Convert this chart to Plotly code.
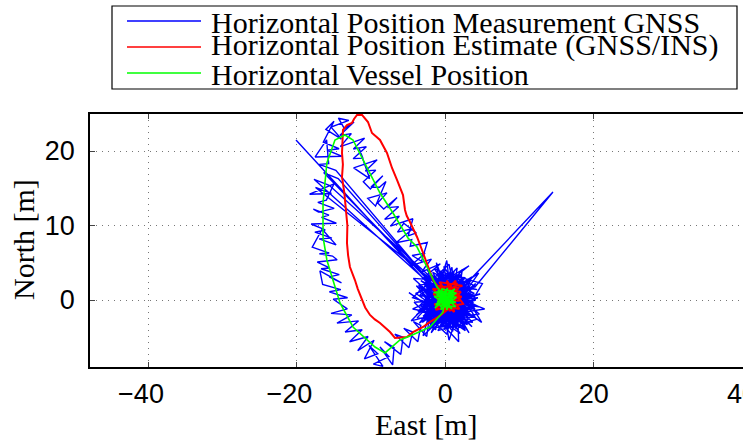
import plotly.graph_objects as go

# ---------------- data: (East [m], North [m]) ----------------
# GNSS horizontal position measurements, in time order
gnss_outlier = [(-20.12, 21.48)]

gnss_static = [
    (-1.6, 1.4), (3.2, 1.5), (-2.8, -1.0), (2.5, -2.6), (-1.9, 2.8), (3.8, -0.4), (-3.5, 0.6),
    (1.2, 3.9), (-0.6, -3.7), (4.1, 2.2), (-2.2, -2.9), (0.9, 4.4), (1.5, -3.9), (-3.9, 1.9),
    (3.5, -2.1), (-1.1, 3.3), (2.7, 3.0), (-3.0, -2.2), (4.4, 0.3), (-4.2, -0.3), (0.2, -4.6),
    (2.0, 2.5), (-2.5, 1.4), (3.0, -3.3), (-1.5, -1.8), (0.3, 3.6), (4.0, -1.2), (-3.3, 2.6),
    (1.8, -1.1), (-0.9, 4.0), (2.9, 0.8), (-2.0, -3.6), (3.6, 3.1), (-3.7, -1.5), (0.8, -2.4),
    (-1.3, 2.0), (4.5, -0.9), (-2.7, 0.2), (1.0, -4.2), (2.3, 4.1), (-3.1, -3.0), (3.3, 1.9),
    (-0.4, -2.7), (1.7, 3.2), (-4.0, 0.9), (2.6, -3.8), (-1.7, 3.7), (3.9, 0.9), (-2.3, -1.3),
    (0.6, 2.9), (2.66, 2.0), (14.51, 14.50), (4.0, 1.74), (-3.6, 1.2), (1.4, -3.1),
    (-0.2, 4.5), (4.2, -2.6), (-1.0, -4.1), (2.2, 1.0), (-2.9, 3.1), (3.7, -3.0),
    (-3.8, -2.4), (0.0, 1.6), (2.8, -0.2), (-1.6, -0.6), (1.1, 2.2), (4.3, 1.4), (-2.4, 2.3),
    (2.0, -4.5), (-3.4, -0.7), (1.6, 4.3), (0.4, -3.4), (3.4, 2.6), (-1.8, 1.0), (2.4, -2.0),
    (-0.7, 3.0), (4.6, -1.9), (-2.6, -2.5), (1.3, 0.6), (-0.5, -1.2), (0.7, 1.1), (-1.2, 0.4),
    (1.9, -0.5), (-0.8, 1.9), (0.1, -1.5), (1.5, 1.7), (-1.4, -1.0), (2.5, 0.3), (-0.3, 2.4),
    (1.2, -1.9), (-2.1, 0.8), (2.9, -1.0), (0.3, 0.9), (-1.9, -4.4), (3.0, 2.2), (-0.9, -0.3),
    (4.7, 0.8), (-3.2, -1.7), (1.9, 3.6), (-1.2, -2.6), (3.9, -2.3), (-4.4, 0.3), (0.5, 4.8),
    (2.2, -3.2), (-2.8, 2.0), (3.3, 0.4), (-0.1, -4.0), (1.0, 2.7), (-3.5, -3.1), (4.0, 1.9),
    (-1.5, 4.2), (2.6, -1.4), (-2.4, -0.4), (0.8, -1.0), (3.6, -3.6), (-3.0, 3.5), (1.7, 0.0),
    (-0.6, -2.1), (5.3, -1.2), (-1.9, 1.6), (2.1, 3.4), (-2.2, -3.9), (0.0, 2.2), (3.1, -2.7),
    (-4.4, -1.2), (1.4, 1.3), (-0.8, 3.6), (2.7, -4.1), (-4.9, 1.0), (0.9, -3.0), (1.8, 2.0),
    (-1.0, -1.6), (4.1, 0.0), (-2.6, 3.0), (0.2, -0.6), (3.5, 1.0), (-1.7, -3.2), (2.4, 2.8),
    (-3.6, 2.0), (1.1, -2.2), (0.2, 5.3), (-2.0, -2.0), (3.7, -1.2), (-0.4, 1.2), (2.0, -2.9),
    (-1.1, 2.6), (2.9, 1.6), (-2.9, -0.6), (1.8, -5.6), (1.5, 3.0), (-3.9, -2.0), (4.5, 3.6),
    (-0.2, -3.0), (2.3, 0.2), (-3.0, -4.8), (-1.3, 1.1), (0.8, -0.3), (3.2, -4.4), (-2.5, 4.1),
    (1.0, 0.4), (0.9, -2.8), (-2.6, 1.1), (2.1, 2.0), (-1.0, -2.9), (2.8, -0.9), (-2.2, -0.7),
    (1.3, 2.8), (-0.5, -3.3), (3.0, 1.2), (-2.9, 0.5), (0.4, -2.2), (-1.4, 2.7), (2.6, -2.3),
    (-2.4, -2.2), (1.6, 1.2), (-0.3, 3.1), (3.2, -1.9), (-3.1, 1.6), (0.6, -3.6), (2.2, 2.9),
    (-1.8, -1.4), (1.0, 3.4), (4.9, -3.0), (-2.7, 2.4), (0.1, -2.6), (3.4, 0.3), (-1.6, 3.2),
    (2.0, -3.7), (-3.3, -0.9), (1.5, 0.4), (-0.9, -3.8), (2.6, 1.7), (-2.3, 3.3), (1.2, -1.3),
    (-4.6, -2.8), (0.7, 2.5), (3.1, -0.3), (-1.5, -2.4), (1.9, 3.1), (-2.8, -0.2), (0.3, -3.9),
    (2.4, 0.8), (-0.6, 2.1), (3.3, -2.6), (-2.0, 1.9), (0.8, -1.8), (-1.2, -3.4), (2.7, 2.4),
    (-4.3, 2.9), (1.7, -2.5), (-0.4, 3.4), (2.3, -1.1), (-2.5, -1.6), (1.1, 1.9), (-1.9, 2.9),
    (3.0, 0.9), (-0.8, -2.3), (1.8, -3.3), (-2.6, 0.0), (3.2, 4.6), (0.5, 3.0), (2.9, -2.0),
    (-1.7, 1.3), (0.0, -3.2), (2.5, 2.2), (-3.2, -2.6), (1.4, -0.4), (-0.7, 3.8), (5.0, 2.2),
    (2.1, -2.6), (-2.1, -3.0), (1.6, 2.6), (-1.1, 0.6), (3.5, -1.4), (-2.9, 2.9), (0.9, -0.9),
    (-1.2, 5.0), (-0.2, -1.9), (1.3, 1.0), (-1.3, 1.8), (2.2, -0.2), (0.5, -5.4), (-0.5, 0.3),
    (0.7, -2.9), (-2.2, -1.1), (1.9, 0.6), (-0.1, 2.8), (2.4, -3.4), (-1.6, -3.7), (0.4, 1.5),
]

gnss_loop = [
    # eastern leg, heading north
    (-0.19, 2.58), (-2.82, 1.78), (-1.40, 3.19), (-2.79, 3.07), (-0.67, 4.86), (-3.10, 3.80),
    (-2.76, 4.36), (-1.87, 5.48), (-4.67, 4.59), (-2.72, 6.29), (-4.47, 5.97), (-3.20, 5.20),
    (-2.43, 7.72), (-4.73, 7.21), (-4.53, 8.10), (-6.64, 7.68), (-4.30, 9.62), (-6.44, 9.12),
    (-5.60, 10.30), (-3.90, 9.00), (-5.00, 8.60), (-4.37, 10.91), (-7.40, 9.92),
    (-6.20, 11.24), (-8.17, 10.83), (-6.29, 12.53), (-7.77, 12.40), (-6.50, 13.77),
    (-8.30, 12.20), (-9.12, 13.02), (-7.86, 14.38), (-10.45, 13.64), (-9.40, 12.60),
    (-8.00, 15.90), (-8.87, 15.14), (-10.01, 15.16), (-8.42, 16.67), (-10.10, 14.90),
    (-11.05, 15.88), (-9.37, 17.43), (-10.77, 17.31), (-9.18, 18.82), (-12.35, 17.73),
    (-10.20, 16.30), (-11.60, 20.30), (-11.11, 19.05), (-12.42, 18.97), (-10.64, 20.58),
    (-12.39, 20.26), (-10.88, 21.72), (-14.14, 20.59), (-12.66, 22.34),
    # turn at the northern end
    (-14.20, 22.10), (-12.30, 23.90), (-13.60, 23.00), (-14.40, 24.40), (-13.00, 24.10),
    (-15.40, 23.20), (-14.00, 21.60), (-16.10, 22.90), (-15.00, 24.00),
    # western leg, heading south (with jumps back towards the dock)
    (-16.44, 21.20), (-14.32, 20.30), (-15.89, 20.10), (-13.97, 19.30), (-17.54, 19.20),
    (-16.00, 21.50), (-15.72, 18.30), (-16.99, 18.20), (-14.75, 17.40), (-1.30, 1.60),
    (-16.40, 17.10), (-14.44, 16.30), (-0.60, 0.80), (-17.69, 16.20), (-15.64, 15.40),
    (0.20, 1.10), (-17.49, 15.10), (-15.34, 14.30), (-18.29, 14.20), (-15.00, 15.60),
    (-16.03, 13.40), (-17.18, 13.10), (-14.98, 12.30), (-17.10, 11.80), (-17.78, 12.20),
    (-15.68, 11.40), (-16.68, 11.10), (-14.68, 10.30), (-18.08, 10.20), (-16.18, 9.40),
    (-17.58, 9.10), (-15.28, 8.30), (-17.00, 8.20), (-14.72, 7.40), (-16.60, 9.50),
    (-17.93, 7.10), (-15.65, 6.30), (-16.97, 6.20), (-15.20, 5.90), (-14.58, 5.40),
    (-17.25, 5.10), (-15.60, 4.30), (-16.75, 4.20), (-14.29, 3.40), (-15.64, 3.10),
    (-13.99, 2.30), (-16.90, 3.90), (-16.53, 2.10), (-14.08, 1.40), (-15.62, 1.10),
    (-13.17, 0.30), (-15.11, 0.10),
    # south-western corner
    (-13.2, -1.2), (-15.4, -1.8), (-12.6, -2.0), (-14.6, -3.1), (-11.7, -2.8), (-13.5, -4.3),
    (-11.2, -4.0), (-12.9, -5.6), (-10.4, -4.9), (-11.8, -6.8), (-9.6, -5.4), (-10.9, -7.9),
    (-9.1, -7.2), (-10.3, -6.1), (-8.4, -8.9), (-9.7, -8.6), (-7.6, -7.6), (-8.8, -6.3),
    (-7.1, -8.7),
    # southern leg, heading east back to the dock
    (-6.9, -6.4), (-8.2, -5.6), (-6.0, -7.3), (-5.7, -5.0), (-6.8, -4.6), (-4.9, -6.4),
    (-4.4, -4.3), (-5.6, -3.8), (-3.7, -5.6), (-3.3, -3.4), (-4.3, -2.9), (-2.5, -4.9),
    (-2.2, -2.6), (-3.0, -2.1), (-1.3, -4.0), (-1.0, -1.7), (-1.9, -1.2), (0.3, -3.0),
    (-0.2, -0.9),
]

# GNSS/INS horizontal position estimate
est_static = [
    (0.4, 0.3), (1.8, 1.6), (-1.2, 1.9), (2.2, 0.4), (-1.5, -0.6), (1.9, -1.2), (-0.8, 2.4),
    (2.3, 1.9), (-1.6, 0.8), (1.2, -1.6), (0.2, 2.6), (2.4, -0.5), (-1.3, -1.3), (1.6, 2.3),
    (-0.4, -1.7), (2.1, 1.1), (-1.7, 1.5), (0.9, -1.0), (1.4, 2.6), (-1.1, 0.1), (2.0, -0.1),
    (0.5, 1.8), (-0.9, -0.9), (1.7, 0.9), (0.6, -1.5), (-0.2, 1.2), (1.1, 0.2),
]
est_loop = [
    (0.23, -1.34), (-0.7, -2.1), (-1.66, -2.68), (-2.3, -3.1), (-3.00, -3.62), (-3.7, -4.0),
    (-4.35, -4.30), (-5.16, -4.97), (-6.0, -5.0), (-6.78, -5.10), (-7.45, -4.30), (-8.1, -3.7),
    (-8.80, -3.09), (-9.5, -2.6), (-10.15, -2.01), (-10.8, -1.0), (-11.23, 0.0), (-11.8, 1.5),
    (-12.18, 2.68), (-12.85, 4.43), (-13.1, 6.0), (-13.25, 7.65), (-13.2, 10.0),
    (-13.38, 12.08), (-13.6, 14.3), (-13.92, 16.51), (-13.8, 18.2), (-13.92, 19.73),
    (-13.79, 22.82), (-13.25, 23.49), (-12.58, 23.76), (-12.3, 24.3), (-11.90, 24.83),
    (-11.23, 24.85), (-10.8, 24.4), (-10.42, 23.89), (-9.88, 22.42), (-9.3, 21.9),
    (-8.80, 21.48), (-7.86, 19.73), (-7.5, 18.6), (-7.18, 17.72), (-6.51, 16.11),
    (-6.1, 15.2), (-5.70, 14.09), (-5.43, 12.08), (-5.2, 11.3), (-4.76, 10.47), (-4.2, 9.4),
    (-3.81, 8.46), (-3.14, 6.71), (-2.8, 5.8), (-2.47, 4.97), (-1.66, 2.68), (-1.12, 2.01),
    (0.0, 1.0),
]

# Horizontal vessel position
vessel_static = [
    (0.0, 0.3), (1.2, 1.1), (-1.3, -0.6), (1.4, -0.9), (-1.0, 1.3), (0.9, -1.2), (-1.5, 0.5),
    (1.5, 0.4), (-0.6, -1.3), (0.3, 1.6), (-1.4, -1.1), (1.3, 1.5), (-0.9, 0.2), (1.0, -0.4),
    (-0.3, 1.0), (0.6, -0.8), (-1.1, -0.2), (1.5, 0.9), (-0.5, 1.5), (0.2, -1.3), (1.1, 0.6),
    (-1.6, 1.0), (0.7, 1.3), (-0.2, -0.6), (1.4, -0.3), (-1.2, 0.8), (0.4, -0.2), (-0.7, -0.9),
    (0.8, 0.3), (-0.1, 0.6),
]
vessel_loop = [
    (-1.12, 1.74), (-2.47, 4.43), (-3.81, 7.11), (-5.03, 8.32), (-7.05, 11.68), (-8.80, 14.36),
    (-11.09, 18.79), (-12.44, 21.48), (-13.52, 22.15), (-14.87, 21.48), (-15.96, 18.39),
    (-16.48, 13.02), (-16.48, 8.46), (-15.96, 5.37), (-15.27, 3.09), (-14.19, -0.40),
    (-12.44, -3.62), (-9.47, -6.31), (-8.13, -7.11), (-6.11, -5.37), (-4.76, -4.83),
    (-2.06, -3.62), (-0.31, -1.61), (-0.04, 0.27),
]

series_names = [
    "Horizontal Position Measurement GNSS",
    "Horizontal Position Estimate (GNSS/INS)",
    "Horizontal Vessel Position",
]
series_colors = ["#0000ff", "#ff0000", "#00ff00"]

x_ticks = [-40, -20, 0, 20, 40]
# negative labels carry a trailing figure space so the digits sit on the tick
x_tick_text = ["\u221240\u2007", "\u221220\u2007", "0", "20", "40"]
y_ticks = [0, 10, 20]

gnss = gnss_outlier + gnss_static + gnss_loop
est = est_static + est_loop
vessel = vessel_static + vessel_loop

# ---------------- figure ----------------
W, H = 743, 445
PL, PR, PT, PB = 90, 743, 114, 367          # plot area in pixels


def fx(p):
    return (p - PL) / (PR - PL)


def fy(p):
    return (PB - p) / (PB - PT)


fig = go.Figure()
for pts, name, color, width in [
    (gnss, series_names[0], series_colors[0], 1.4),
    (est, series_names[1], series_colors[1], 2),
    (vessel, series_names[2], series_colors[2], 1.6),
]:
    fig.add_trace(go.Scatter(x=[p[0] for p in pts], y=[p[1] for p in pts], mode="lines",
                             line=dict(color=color, width=width),
                             name=name, showlegend=False))

serif = "Liberation Serif"
sans = "Liberation Sans"

axis_common = dict(
    showgrid=True, gridcolor="#777", gridwidth=1, griddash="1px,5px",
    zeroline=False, showline=True, linecolor="black", linewidth=1.5,
    ticks="inside", ticklen=5, tickwidth=1, tickcolor="#444",
    tickfont=dict(family=sans, size=27, color="black"),
    ticklabeloverflow="allow",
)

fig.update_xaxes(range=[(PL - 445.3) / 7.42, (PR - 445.3) / 7.42],
                 tickvals=x_ticks, ticktext=x_tick_text, mirror="ticks",
                 ticklabelstandoff=2, **axis_common)
fig.update_yaxes(range=[(300 - PB) / 7.45, (300 - PT) / 7.45],
                 tickvals=y_ticks, mirror=False, ticklabelstandoff=8,
                 **axis_common)

shapes = [dict(type="rect", xref="paper", yref="paper",
               x0=fx(112), x1=fx(737), y0=fy(89), y1=fy(6),
               line=dict(color="black", width=1.2), fillcolor="white", layer="above")]
annotations = []
rows = [21, 47, 73]
text_rows = [22, 45, 74]
for name, color, ry, ty in zip(series_names, series_colors, rows, text_rows):
    shapes.append(dict(type="line", xref="paper", yref="paper",
                       x0=fx(127), x1=fx(201), y0=fy(ry), y1=fy(ry),
                       line=dict(color=color, width=1.5), layer="above"))
    annotations.append(dict(text=name, xref="paper", yref="paper",
                            x=fx(209), y=fy(ty), xanchor="left", yanchor="middle",
                            showarrow=False,
                            font=dict(family=serif, size=30, color="black")))

annotations.append(dict(text="East [m]", xref="paper", yref="paper",
                        x=fx(426), y=fy(424), xanchor="center", yanchor="middle",
                        showarrow=False, font=dict(family=serif, size=30, color="black")))
annotations.append(dict(text="North [m]", xref="paper", yref="paper", textangle=-90,
                        x=fx(23), y=fy(240), xanchor="center", yanchor="middle",
                        showarrow=False, font=dict(family=serif, size=30, color="black")))

fig.update_layout(
    width=W, height=H,
    margin=dict(l=PL, r=W - PR, t=PT, b=H - PB, autoexpand=False),
    paper_bgcolor="white", plot_bgcolor="white",
    shapes=shapes, annotations=annotations, showlegend=False,
)

fig.write_html("out.html")
